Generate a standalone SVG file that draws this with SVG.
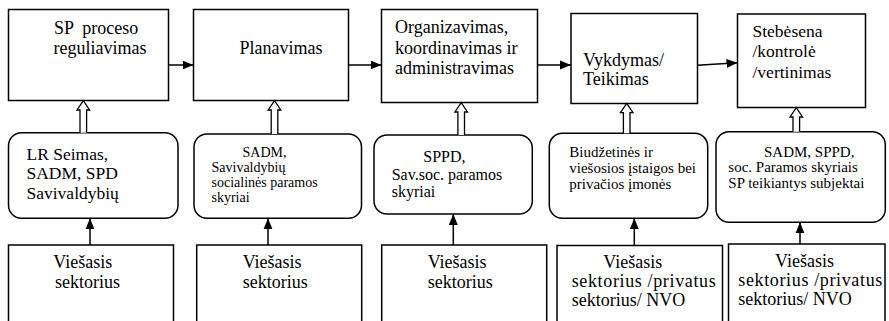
<svg xmlns="http://www.w3.org/2000/svg" width="889" height="321" viewBox="0 0 889 321">
  <style>
    .box { fill: #fff; stroke: #000; stroke-width: 1.5; }
    .conn { stroke: #000; stroke-width: 1.5; fill: none; }
    .hollow { fill: #fff; stroke: #000; stroke-width: 1.3; }
  </style>
  <defs>
    <marker id="head" markerUnits="userSpaceOnUse" markerWidth="12" markerHeight="10" refX="11" refY="5" orient="auto">
      <path d="M0,0.5 L11,5 L0,9.5 Z" fill="#000"/>
    </marker>
  </defs>

  <rect width="889" height="321" fill="#fff"/>

  <!-- all labels use a Times-metric serif -->
  <g font-family="Liberation Serif, Times New Roman, serif" fill="#000">
  <!-- top row: process stages -->
  <g id="stage-reguliavimas">
    <rect class="box" x="8.5" y="9.5" width="160" height="91"/>
    <text font-size="18" x="54" y="34" xml:space="preserve">SP  proceso</text>
    <text font-size="18" x="53.5" y="54">reguliavimas</text>
  </g>
  <g id="stage-planavimas">
    <rect class="box" x="193.5" y="9.5" width="155" height="91"/>
    <text font-size="18" x="239.5" y="54">Planavimas</text>
  </g>
  <g id="stage-organizavimas">
    <rect class="box" x="381.5" y="9.5" width="156" height="93"/>
    <text font-size="18" x="395" y="33">Organizavimas,</text>
    <text font-size="18" x="395" y="53.5">koordinavimas ir</text>
    <text font-size="18" x="395" y="73.5">administravimas</text>
  </g>
  <g id="stage-vykdymas">
    <rect class="box" x="571" y="13.5" width="126.5" height="90"/>
    <text font-size="18" x="583" y="65.5">Vykdymas/</text>
    <text font-size="18" x="583" y="84.5">Teikimas</text>
  </g>
  <g id="stage-stebesena">
    <rect class="box" x="737.5" y="14" width="128" height="93.5"/>
    <text font-size="17.5" x="752.5" y="37">Stebėsena</text>
    <text font-size="17.5" x="752.5" y="57">/kontrolė</text>
    <text font-size="17.5" x="752.5" y="77.5">/vertinimas</text>
  </g>

  <!-- middle row: responsible institutions -->
  <g id="actors-1">
    <rect class="box" x="8.5" y="132.7" width="169.5" height="85.6" rx="13" ry="13"/>
    <text font-size="17.5" x="26.5" y="159.5">LR Seimas,</text>
    <text font-size="17.5" x="26.5" y="179">SADM, SPD</text>
    <text font-size="17.5" x="26.5" y="198.5">Savivaldybių</text>
  </g>
  <g id="actors-2">
    <rect class="box" x="194" y="134" width="167.5" height="84.3" rx="13" ry="13"/>
    <text font-size="14" x="242.5" y="156.7">SADM,</text>
    <text font-size="14" x="211.5" y="171.7">Savivaldybių</text>
    <text font-size="14" x="211.5" y="186.7">socialinės paramos</text>
    <text font-size="14" x="211.5" y="201.7">skyriai</text>
  </g>
  <g id="actors-3">
    <rect class="box" x="374" y="135" width="158.3" height="79" rx="13" ry="13"/>
    <text font-size="16" x="423.3" y="161.7">SPPD,</text>
    <text font-size="16" x="391.7" y="179.7">Sav.soc. paramos</text>
    <text font-size="16" x="391.7" y="197">skyriai</text>
  </g>
  <g id="actors-4">
    <rect class="box" x="549.3" y="133.3" width="158.4" height="85" rx="13" ry="13"/>
    <text font-size="15" x="569.3" y="156.7">Biudžetinės ir</text>
    <text font-size="15" x="569.3" y="172.8">viešosios įstaigos bei</text>
    <text font-size="15" x="569.3" y="188.6">privačios įmonės</text>
  </g>
  <g id="actors-5">
    <rect class="box" x="716" y="131.7" width="169.3" height="90.6" rx="13" ry="13"/>
    <text font-size="15" x="764" y="156.7">SADM, SPPD,</text>
    <text font-size="15" x="728.3" y="172">soc. Paramos skyriais</text>
    <text font-size="15" x="728.3" y="187.5">SP teikiantys subjektai</text>
  </g>

  <!-- bottom row: sectors (run past the lower edge) -->
  <g id="sector-1">
    <rect class="box" x="8.5" y="245" width="165" height="100"/>
    <text font-size="18" x="53.3" y="268.3">Viešasis</text>
    <text font-size="18" x="55" y="288.3">sektorius</text>
  </g>
  <g id="sector-2">
    <rect class="box" x="196.7" y="245" width="165" height="100"/>
    <text font-size="18" x="242.7" y="268.3">Viešasis</text>
    <text font-size="18" x="242.7" y="288.3">sektorius</text>
  </g>
  <g id="sector-3">
    <rect class="box" x="381.7" y="245" width="165" height="100"/>
    <text font-size="18" x="427.7" y="267.5">Viešasis</text>
    <text font-size="18" x="427.7" y="287.5">sektorius</text>
  </g>
  <g id="sector-4">
    <rect class="box" x="557" y="245.5" width="165.5" height="100"/>
    <text font-size="18" x="603.3" y="268.3">Viešasis</text>
    <text font-size="18" x="571.7" y="286.7" textLength="144" lengthAdjust="spacing">sektorius /privatus</text>
    <text font-size="18" x="571.7" y="305.7">sektorius/ NVO</text>
  </g>
  <g id="sector-5">
    <rect class="box" x="728.5" y="244" width="156.5" height="100"/>
    <text font-size="18" x="775" y="266.7">Viešasis</text>
    <text font-size="18" x="738.3" y="286" textLength="144" lengthAdjust="spacing">sektorius /privatus</text>
    <text font-size="18" x="738.3" y="305">sektorius/ NVO</text>
  </g>
  </g>

  <!-- connectors -->
  <g id="connectors">
    <!-- stage sequence -->
    <line class="conn" x1="168.5" y1="65" x2="193.5" y2="65" marker-end="url(#head)"/>
    <line class="conn" x1="348.5" y1="65" x2="381.5" y2="65" marker-end="url(#head)"/>
    <line class="conn" x1="537.5" y1="65" x2="571" y2="65" marker-end="url(#head)"/>
    <line class="conn" x1="697.5" y1="65.3" x2="737.5" y2="62.7" marker-end="url(#head)"/>

    <!-- hollow arrows: institutions to stages -->
    <path class="hollow" d="M80,132.7 V110 H77 L83.3,100.7 L89.6,110 H86.6 V132.7"/>
    <path class="hollow" d="M271.2,134 V110 H268.2 L274.5,100.7 L280.8,110 H277.8 V134"/>
    <path class="hollow" d="M457.9,135 V112 H454.9 L461.2,102.7 L467.5,112 H464.5 V135"/>
    <path class="hollow" d="M623.4,133.3 V112.6 H620.4 L626.7,103.3 L633,112.6 H630 V133.3"/>
    <path class="hollow" d="M793,131.7 V117 H790 L796.3,107.7 L802.6,117 H799.6 V131.7"/>

    <!-- sectors to institutions -->
    <line class="conn" x1="90" y1="245" x2="90" y2="218.3" marker-end="url(#head)"/>
    <line class="conn" x1="268" y1="245" x2="268" y2="218.3" marker-end="url(#head)"/>
    <line class="conn" x1="453.3" y1="245" x2="453.3" y2="214" marker-end="url(#head)"/>
    <line class="conn" x1="634.3" y1="245.5" x2="634.3" y2="218.3" marker-end="url(#head)"/>
    <line class="conn" x1="800" y1="244" x2="800" y2="222.3" marker-end="url(#head)"/>
  </g>
</svg>
